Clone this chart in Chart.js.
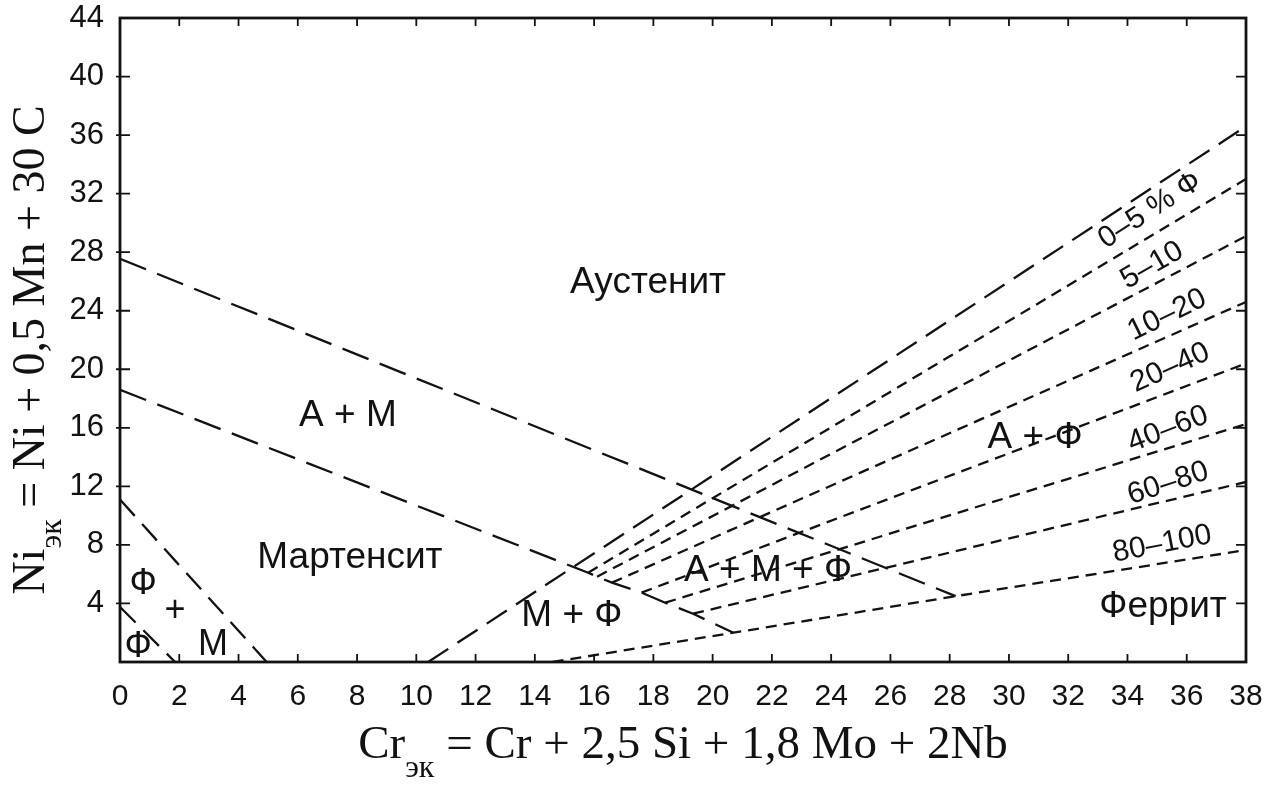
<!DOCTYPE html>
<html>
<head>
<meta charset="utf-8">
<script src="https://cdn.jsdelivr.net/npm/chart.js@4"></script>
<style>
  html, body { margin: 0; padding: 0; background: #ffffff; }
  #wrap { width: 1279px; height: 785px; }
</style>
</head>
<body>
<div id="wrap"><canvas id="diagram" width="1279" height="785"></canvas></div>
<script>
// Schaeffler-type constitution diagram: Cr equivalent (x) vs Ni equivalent (y)

// Axis ticks
const xTickValues = [0, 2, 4, 6, 8, 10, 12, 14, 16, 18, 20, 22, 24, 26, 28, 30, 32, 34, 36, 38];
const yTickValues = [4, 8, 12, 16, 20, 24, 28, 32, 36, 40, 44];

// Phase boundaries, points as [Cr_eq, Ni_eq]
const boundaryAusteniteAM = [[0, 27.55], [28.2, 4.5]];
const boundaryMartensiteAM = [[0, 18.6], [15.8, 6.1], [16.1, 5.83], [16.6, 5.42], [17.6, 4.74], [18.4, 4.05], [19.34, 3.3], [20.7, 2.0]];
const boundaryMartensiteFM = [[0, 11.1], [4.95, 0]];
const boundaryFerriteFM = [[0, 3.76], [1.86, 0]];

// Iso-ferrite lines (% ferrite)
const ferrite0 = [[10.4, 0], [38, 36.6]];
const ferrite5 = [[15.8, 6.1], [38, 33.0]];
const ferrite10 = [[16.1, 5.83], [38, 29.1]];
const ferrite20 = [[16.6, 5.42], [38, 24.6]];
const ferrite40 = [[17.6, 4.74], [38, 20.4]];
const ferrite60 = [[18.4, 4.05], [38, 16.25]];
const ferrite80 = [[19.34, 3.3], [38, 12.3]];
const ferrite100 = [[14.6, 0], [20.7, 2.0], [28.2, 4.5], [38, 7.65]];

// Phase field names and anchor points
const regionNames = ['Аустенит', 'А + М', 'Мартенсит', 'М + Ф', 'А + М + Ф', 'А + Ф', 'Феррит', 'Ф', '+', 'М', 'Ф'];
const regionX = [17.82, 7.69, 7.76, 15.25, 21.87, 30.88, 35.2, 0.78, 1.86, 3.14, 0.61];
const regionY = [25.9, 16.8, 7.09, 3.16, 6.2, 15.3, 3.77, 5.3, 3.5, 1.15, 1.0];

// Ferrite-content band labels
const bandNames = ['0–5 % Ф', '5–10', '10–20', '20–40', '40–60', '60–80', '80–100'];
const bandX = [34.76, 34.83, 35.34, 35.44, 35.37, 35.37, 35.17];
const bandY = [30.85, 27.1, 23.7, 20.1, 15.9, 12.2, 8.05];

const ink = '#121212';
const LONG = [28, 12];
const MEDIUM = [22, 11];
const SHORT = [11, 7];

function toXY(pts) { return pts.map(p => ({ x: p[0], y: p[1] })); }
function boundary(pts, dash) {
  return {
    data: toXY(pts), showLine: true, borderColor: ink, borderWidth: 2.3,
    borderDash: dash, pointRadius: 0, fill: false, tension: 0
  };
}

const datasets = [
  boundary(boundaryAusteniteAM, LONG),
  boundary(boundaryMartensiteAM, LONG),
  boundary(boundaryMartensiteFM, MEDIUM),
  boundary(boundaryFerriteFM, MEDIUM),
  boundary(ferrite0, [24, 11]),
  boundary(ferrite5, SHORT),
  boundary(ferrite10, SHORT),
  boundary(ferrite20, SHORT),
  boundary(ferrite40, SHORT),
  boundary(ferrite60, SHORT),
  boundary(ferrite80, SHORT),
  boundary(ferrite100, SHORT)
];

// text style for labels
const bandAngles = [-33, -30, -26, -24, -21, -18, -11];
const SANS = '"Liberation Sans", Arial, sans-serif';
const SERIF = '"Liberation Serif", "Times New Roman", serif';

function drawRuns(ctx, runs) {
  let x = 0;
  runs.forEach(r => {
    ctx.font = r.size + 'px ' + SERIF;
    ctx.fillText(r.t, x, r.dy);
    x += ctx.measureText(r.t).width;
  });
}
function runsWidth(ctx, runs) {
  let w = 0;
  runs.forEach(r => { ctx.font = r.size + 'px ' + SERIF; w += ctx.measureText(r.t).width; });
  return w;
}

const diagramDecor = {
  id: 'diagramDecor',
  afterDraw(chart) {
    const { ctx, chartArea: a, scales: { x, y } } = chart;
    ctx.save();
    ctx.strokeStyle = ink;
    ctx.fillStyle = ink;

    // frame
    ctx.lineWidth = 2.8;
    ctx.strokeRect(a.left, a.top, a.right - a.left, a.bottom - a.top);

    // inward ticks on all four sides
    ctx.lineWidth = 1.8;
    ctx.beginPath();
    xTickValues.forEach(v => {
      if (v <= x.min || v >= x.max) return;
      const px = x.getPixelForValue(v);
      ctx.moveTo(px, a.bottom); ctx.lineTo(px, a.bottom - 8);
      ctx.moveTo(px, a.top); ctx.lineTo(px, a.top + 8);
    });
    yTickValues.forEach(v => {
      if (v <= y.min || v >= y.max) return;
      const py = y.getPixelForValue(v);
      ctx.moveTo(a.left - 4, py); ctx.lineTo(a.left + 10, py);
      ctx.moveTo(a.right, py); ctx.lineTo(a.right - 10, py);
    });
    ctx.stroke();

    // phase field names
    ctx.textAlign = 'center';
    ctx.textBaseline = 'middle';
    regionNames.forEach((t, i) => {
      const small = i >= 7;
      ctx.font = (small ? 36 : 37) + 'px ' + SANS;
      ctx.fillText(t, x.getPixelForValue(regionX[i]), y.getPixelForValue(regionY[i]));
    });

    // ferrite band labels
    ctx.font = '30px ' + SANS;
    bandNames.forEach((t, i) => {
      ctx.save();
      ctx.translate(x.getPixelForValue(bandX[i]), y.getPixelForValue(bandY[i]));
      ctx.rotate(bandAngles[i] * Math.PI / 180);
      ctx.fillText(t, 0, 0);
      ctx.restore();
    });

    // axis titles with subscripts
    ctx.textAlign = 'left';
    ctx.textBaseline = 'alphabetic';
    const xRuns = [
      { t: 'Cr', size: 47, dy: 0 },
      { t: 'эк', size: 32, dy: 19 },
      { t: ' = Cr + 2,5 Si + 1,8 Mo + 2Nb', size: 47, dy: 0 }
    ];
    const xw = runsWidth(ctx, xRuns);
    ctx.save();
    ctx.translate((a.left + a.right) / 2 - xw / 2, a.bottom + 96);
    drawRuns(ctx, xRuns);
    ctx.restore();

    const yRuns = [
      { t: 'Ni', size: 46, dy: 0 },
      { t: 'эк', size: 32, dy: 17 },
      { t: ' = Ni + 0,5 Mn + 30 C', size: 46, dy: 0 }
    ];
    const yw = runsWidth(ctx, yRuns);
    ctx.save();
    ctx.translate(44, (a.top + a.bottom) / 2 + 10 + yw / 2);
    ctx.rotate(-Math.PI / 2);
    drawRuns(ctx, yRuns);
    ctx.restore();

    ctx.restore();
  }
};

new Chart(document.getElementById('diagram'), {
  type: 'scatter',
  data: { datasets },
  plugins: [diagramDecor],
  options: {
    responsive: false,
    animation: false,
    devicePixelRatio: 1,
    layout: { padding: { top: 18, right: 33, left: 0, bottom: 0 } },
    plugins: { legend: { display: false }, tooltip: { enabled: false } },
    scales: {
      x: {
        type: 'linear', min: 0, max: 38,
        grid: { display: false }, border: { display: false },
        afterBuildTicks: s => { s.ticks = xTickValues.map(v => ({ value: v })); },
        afterFit: s => { s.height = 123; s.paddingLeft = 0; s.paddingRight = 0; },
        ticks: {
          color: ink, padding: 9, maxRotation: 0, autoSkip: false,
          font: { family: SANS, size: 30 },
          callback: v => String(v)
        }
      },
      y: {
        type: 'linear', min: 0, max: 44,
        grid: { display: false }, border: { display: false },
        afterBuildTicks: s => { s.ticks = yTickValues.map(v => ({ value: v })); },
        afterFit: s => { s.width = 120; s.paddingTop = 0; s.paddingBottom = 0; },
        ticks: {
          color: ink, padding: 8, autoSkip: false,
          font: { family: SANS, size: 31 },
          callback: v => String(v)
        }
      }
    }
  }
});
</script>
</body>
</html>
